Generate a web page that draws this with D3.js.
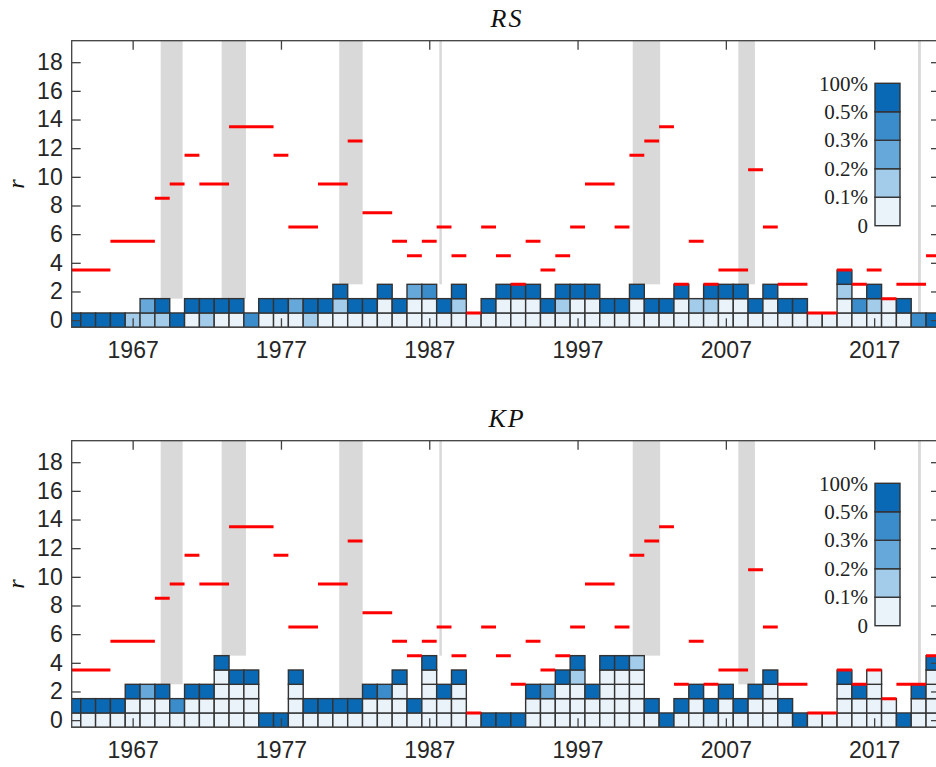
<!DOCTYPE html>
<html><head><meta charset="utf-8">
<script src="https://cdn.jsdelivr.net/npm/d3@7"></script>
<style>body{margin:0;background:#fff}svg{display:block}</style>
</head><body><svg id="c" width="936" height="767"></svg>
<script>
// ---------------- data ----------------
const years = d3.range(1963, 2022); // 1963..2021
// colour level of each stacked cell, bottom row first (0 = "0-0.1%", 4 = "0.5-100%")
const rsCells = [
 [4],[4],[4],[4],[1],[1,2],[1,4],[4],[0,4],[1,4],          // 1963-1972
 [0,4],[0,4],[3],[0,4],[0,4],[0,2],[1,4],[0,4],[0,1,4],[0,4], // 1973-1982
 [0,4],[0,0,4],[0,4],[0,0,2],[0,0,3],[0,4],[0,1,4],[0],[0,4],[0,0,4], // 1983-1992
 [0,0,4],[0,0,4],[0,4],[0,1,4],[0,0,4],[0,0,4],[0,4],[0,4],[0,0,4],[0,4], // 1993-2002
 [0,4],[0,0,4],[0,1],[0,1,4],[0,0,4],[0,0,4],[0,4],[0,0,4],[0,4],[0,4], // 2003-2012
 [0],[0],[0,0,1,4],[0,3],[0,1,4],[0,0],[0,4],[3],[4]          // 2013-2021
];
const kpCells = [
 [0,4],[0,4],[0,4],[0,4],[0,0,4],[0,0,2],[0,0,4],[0,3],[0,0,4],[0,0,4], // 1963-1972
 [0,0,0,0,4],[0,0,0,4],[0,0,0,4],[4],[4],[0,0,0,4],[0,4],[0,4],[0,4],[0,4], // 1973-1982
 [0,0,4],[0,0,3],[0,0,0,4],[0,4],[0,0,0,0,4],[0,0,4],[0,0,0,4],[0],[4],[4], // 1983-1992
 [4],[0,0,4],[0,0,2],[0,0,0,4],[0,0,0,1,4],[0,0,4],[0,0,0,0,4],[0,0,0,0,4],[0,0,0,0,1],[0,4], // 1993-2002
 [4],[0,4],[0,0,4],[0,4],[0,0,4],[0,4],[0,0,4],[0,0,0,4],[0,4],[4], // 2003-2012
 [0],[0],[0,0,0,4],[0,0,4],[0,0,0,0],[0,0],[4],[0,0,4],[0,0,0,0,4] // 2013-2021
];
// red marker level per year (same in both panels)
const redLevels = [
 3.5,3.5,3.5,5.5,5.5,5.5,8.5,9.5,11.5,9.5,
 9.5,13.5,13.5,13.5,11.5,6.5,6.5,9.5,9.5,12.5,
 7.5,7.5,5.5,4.5,5.5,6.5,4.5,0.5,6.5,4.5,
 2.5,5.5,3.5,4.5,6.5,9.5,9.5,6.5,11.5,12.5,
 13.5,2.5,5.5,2.5,3.5,3.5,10.5,6.5,2.5,2.5,
 0.5,0.5,3.5,2.5,3.5,1.5,2.5,2.5,4.5
];
// shaded periods
const bandStart = [1968.89, 1973.0, 1980.93, 1987.68, 2000.72, 2007.84, 2019.96];
const bandEnd   = [1970.37, 1974.64, 1982.51, 1987.85, 2002.57, 2008.96, 2020.15];
const bandBottomRS = [1.5, 1.5, 2.5, 2.5, 2.5, 2.5, 0.5];
const bandBottomKP = [2.5, 4.5, 1.5, 4.5, 4.5, 2.5, 2.5];
const legendLabels = ['0', '0.1%', '0.2%', '0.3%', '0.5%', '100%'];
const levelColors = ['#eaf3fa', '#a2ccea', '#66a8da', '#3b8ccb', '#0a69b5'];
const xTicks = [1967, 1977, 1987, 1997, 2007, 2017];
const yTicks = d3.range(0, 19, 2);
const titles = ['RS', 'KP'];

// merge consecutive years with the same red level into runs
const redRuns = [];
years.forEach((yr, i) => {
  const last = redRuns[redRuns.length - 1];
  if (last && last.level === redLevels[i] && last.end === yr - 1) last.end = yr;
  else redRuns.push({start: yr, end: yr, level: redLevels[i]});
});

// ---------------- drawing ----------------
const svg = d3.select('#c');
const x = d3.scaleLinear().domain([1962.89, 2021.44]).range([71.7, 940]);
const axisColor = '#404040', textColor = '#262626';
const panelTops = [40.7, 440.7];
const panelH = 286.6;

panelTops.forEach((top, p) => {
  const cells = p === 0 ? rsCells : kpCells;
  const bandBottom = p === 0 ? bandBottomRS : bandBottomKP;
  const y = d3.scaleLinear().domain([-0.5, 19.5]).range([top + panelH, top]);
  const g = svg.append('g');
  const clipId = 'clip' + p;
  svg.append('clipPath').attr('id', clipId).append('rect')
    .attr('x', x.range()[0]).attr('y', top)
    .attr('width', x.range()[1] - x.range()[0]).attr('height', panelH);
  const plot = g.append('g').attr('clip-path', `url(#${clipId})`);

  // bands
  plot.selectAll('rect.band').data(bandStart).join('rect').attr('class', 'band')
    .attr('x', (d) => x(d))
    .attr('width', (d, i) => x(bandEnd[i]) - x(d))
    .attr('y', y(19.5))
    .attr('height', (d, i) => y(bandBottom[i]) - y(19.5))
    .attr('fill', '#d9d9d9');

  // cells
  const flat = [];
  years.forEach((yr, i) => cells[i].forEach((lev, r) => flat.push({yr, r, lev})));
  plot.selectAll('rect.cell').data(flat).join('rect').attr('class', 'cell')
    .attr('x', d => x(d.yr - 0.5))
    .attr('width', d => x(d.yr + 0.5) - x(d.yr - 0.5))
    .attr('y', d => y(d.r + 0.5))
    .attr('height', d => y(d.r - 0.5) - y(d.r + 0.5))
    .attr('fill', d => levelColors[d.lev])
    .attr('stroke', '#333').attr('stroke-width', 1.4);

  // red markers
  plot.selectAll('line.red').data(redRuns).join('line').attr('class', 'red')
    .attr('x1', d => x(d.start - 0.5)).attr('x2', d => x(d.end + 0.5))
    .attr('y1', d => y(d.level)).attr('y2', d => y(d.level))
    .attr('stroke', '#ff0000').attr('stroke-width', 3);

  // axes
  const styleAxis = sel => {
    sel.select('.domain').remove();
    sel.selectAll('line').attr('stroke', axisColor).attr('stroke-width', 1.3);
    sel.selectAll('text').attr('fill', textColor)
      .style('font-family', '"Liberation Sans", Arial, sans-serif').style('font-size', '23px');
  };
  g.append('g').attr('transform', `translate(${x.range()[0]},0)`)
    .call(d3.axisLeft(y).tickValues(yTicks).tickSize(-9).tickPadding(9)).call(styleAxis);
  g.append('g').attr('transform', `translate(${x.range()[1]},0)`)
    .call(d3.axisRight(y).tickValues(yTicks).tickSize(-9).tickFormat('')).call(styleAxis);
  g.append('g').attr('transform', `translate(0,${top + panelH})`)
    .call(d3.axisBottom(x).tickValues(xTicks).tickSize(-9).tickPadding(14).tickFormat(d3.format('d'))).call(styleAxis);
  g.append('g').attr('transform', `translate(0,${top})`)
    .call(d3.axisTop(x).tickValues(xTicks).tickSize(-9).tickFormat('')).call(styleAxis);
  g.append('rect').attr('x', x.range()[0]).attr('y', top)
    .attr('width', x.range()[1] - x.range()[0]).attr('height', panelH)
    .attr('fill', 'none').attr('stroke', axisColor).attr('stroke-width', 1.3);

  // title
  g.append('text').attr('x', 507).attr('y', top - 14)
    .attr('text-anchor', 'middle').attr('fill', '#111')
    .style('font-family', '"Liberation Serif", "DejaVu Serif", serif')
    .style('font-style', 'italic').style('font-size', '26px').style('letter-spacing', '2px')
    .text(titles[p]);
  // y label
  g.append('text').attr('transform', `translate(24,${top + panelH / 2}) rotate(-90)`)
    .attr('text-anchor', 'middle').attr('fill', '#111')
    .style('font-family', '"Liberation Serif", "DejaVu Serif", serif')
    .style('font-style', 'italic').style('font-size', '24px')
    .text('r');

  // legend (colour bar)
  const ly = d3.scaleLinear().domain([0, 5]).range([top + 185, top + 42.6]);
  const lg = g.append('g');
  lg.selectAll('rect').data(levelColors).join('rect')
    .attr('x', 875).attr('width', 25)
    .attr('y', (d, i) => ly(i + 1)).attr('height', (d, i) => ly(i) - ly(i + 1))
    .attr('fill', d => d).attr('stroke', '#333').attr('stroke-width', 1.4);
  const la = lg.append('g').attr('transform', 'translate(875,0)')
    .call(d3.axisLeft(ly).tickValues(d3.range(6)).tickSize(0).tickPadding(7)
      .tickFormat(i => legendLabels[i]));
  la.select('.domain').remove();
  la.selectAll('text').attr('fill', '#222')
    .style('font-family', '"Liberation Serif", "DejaVu Serif", serif').style('font-size', '21px');
});
</script>
</body></html>
